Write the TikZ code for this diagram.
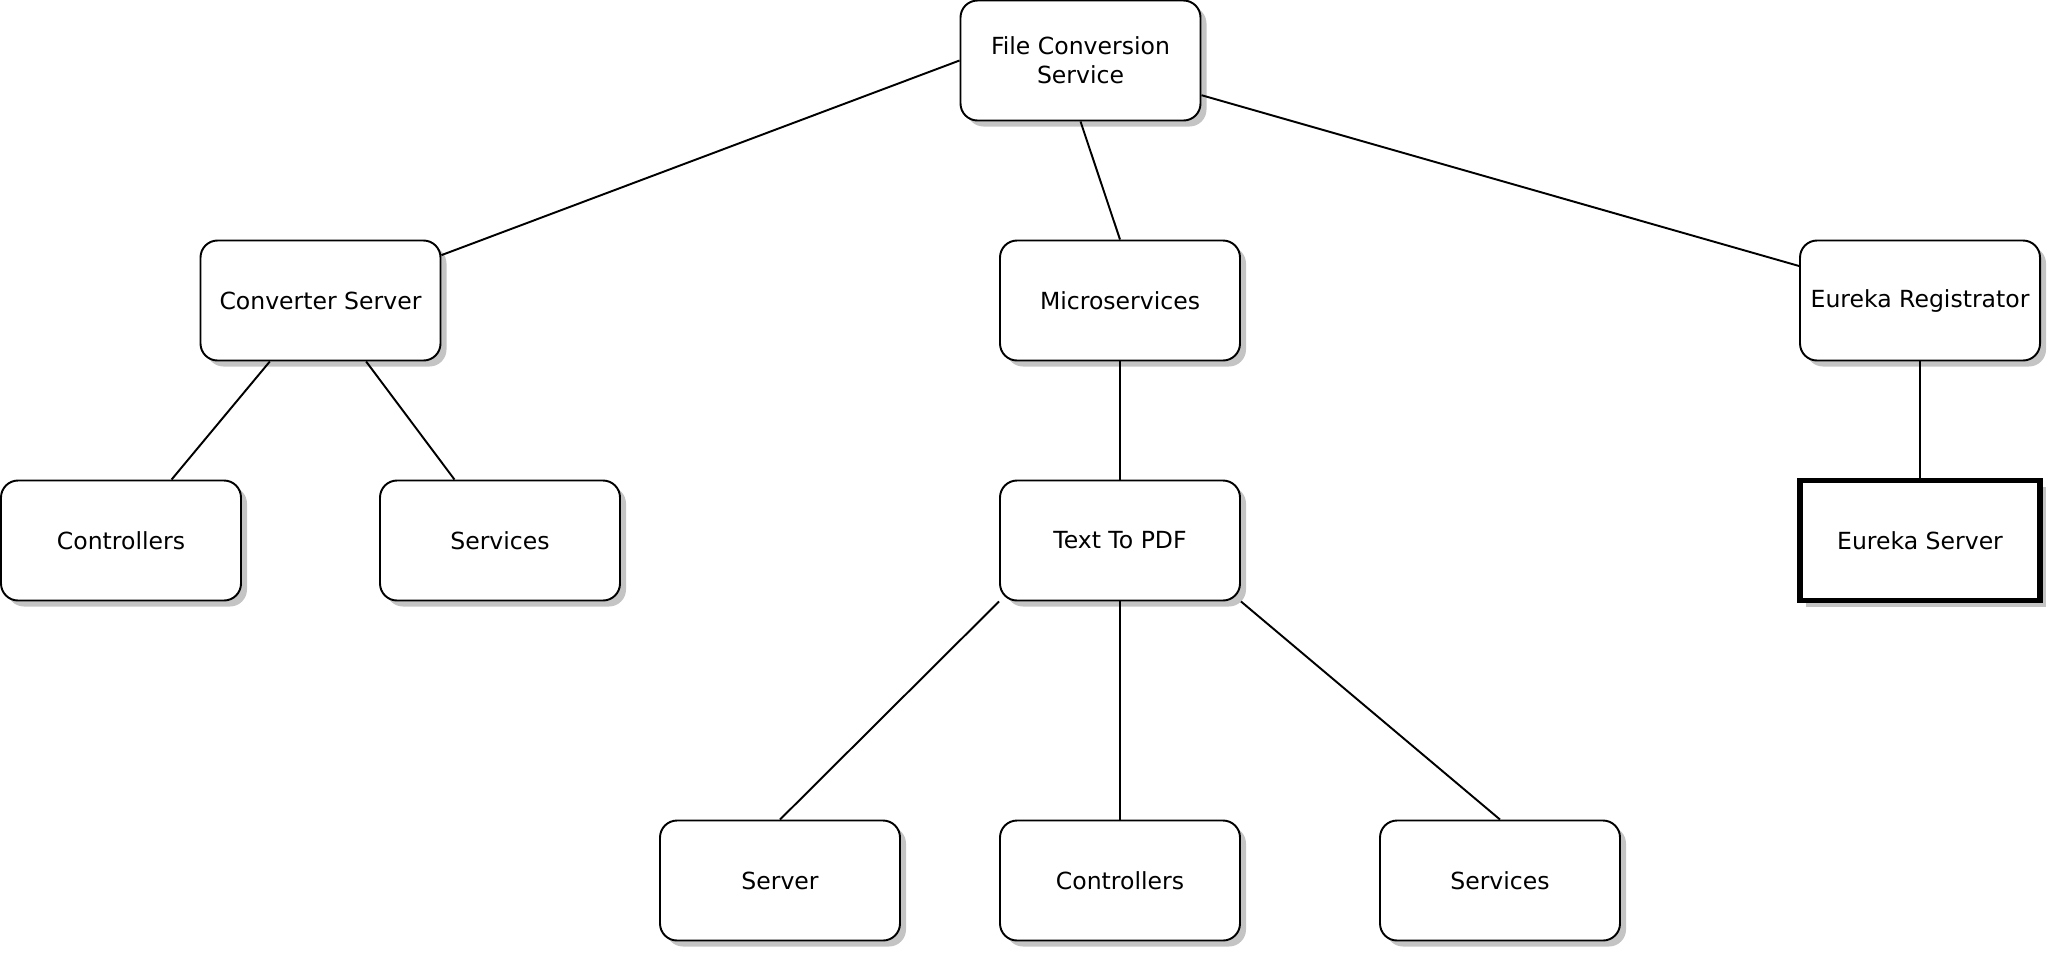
\documentclass[tikz,border=0pt]{standalone}
\usepackage{fontspec}
\setmainfont{DejaVu Sans}
\usetikzlibrary{shadows}

\begin{document}
\begin{tikzpicture}[font=\fontsize{13.4pt}{16.5pt}\selectfont, line width=1.1pt,
	box/.style={draw, fill=white, rounded corners=0.34cm, minimum width=4.8cm, minimum height=2.4cm, align=center,
		drop shadow={shadow xshift=0.12cm, shadow yshift=-0.12cm, fill=black!23, opacity=1}}]
	
	\useasboundingbox (0,0) rectangle (41,-19.04);
	
	\node[box] (fcs) at (21.61,-1.21) {File Conversion\\Service};
	
	\node[box] (conv) at (6.41,-6.01) {Converter Server};
	\node[box] (micro) at (22.4,-6.01) {Microservices};
	\node[box] (eureg) at (38.4,-6.01) {Eureka Registrator};
	
	\node[box] (ctrlA) at (2.42,-10.81) {Controllers};
	\node[box] (servA) at (10.0,-10.81) {Services};
	\node[box] (pdf) at (22.4,-10.81) {Text To PDF};
	\node[box, sharp corners, line width=3pt] (eusrv) at (38.4,-10.81) {Eureka Server};
	
	\foreach \n/\x/\t in {srv/15.6/Server, ctrlB/22.4/Controllers, servB/30.0/Services}
		\node[box] (\n) at (\x,-17.61) {\t};
	
	\draw (fcs.west) -- (conv);
	\draw (fcs.south) -- (micro.north);
	\draw (fcs.-16) -- (eureg);
	
	\draw (conv) -- (ctrlA);
	\draw (conv) -- (servA);
	\draw (micro) -- (pdf);
	\draw (eureg) -- (eusrv);
	
	\draw (pdf.south west) -- (srv.north);
	\draw (pdf) -- (ctrlB);
	\draw (pdf.south east) -- (servB.north);
	
\end{tikzpicture}
\end{document}
